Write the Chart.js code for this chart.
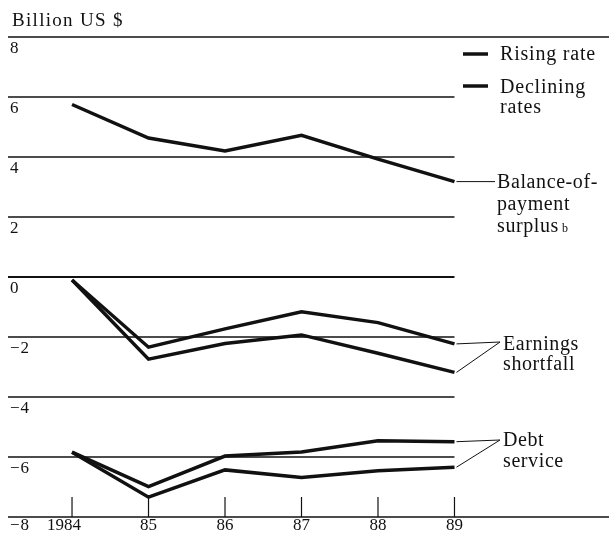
<!DOCTYPE html>
<html>
<head>
<meta charset="utf-8">
<script src="https://cdn.jsdelivr.net/npm/chart.js@4.4.0/dist/chart.umd.min.js"></script>
<style>
  body { margin: 0; background: #fff; }
</style>
</head>
<body>
<canvas id="debtChart" width="609" height="537"></canvas>
<script>
// values, billion US $
const years = [1984, 1985, 1986, 1987, 1988, 1989];
const yearLabels = ["1984", "85", "86", "87", "88", "89"];
const yTicks = [8, 6, 4, 2, 0, -2, -4, -6, -8];

const balanceSurplus = [5.75, 4.63, 4.2, 4.72, 3.93, 3.18];
const earningsRising = [-0.1, -2.74, -2.22, -1.93, -2.54, -3.18];
const earningsDeclining = [-0.1, -2.34, -1.73, -1.16, -1.52, -2.23];
const debtRising = [-5.84, -7.34, -6.43, -6.68, -6.46, -6.34];
const debtDeclining = [-5.84, -6.99, -5.97, -5.83, -5.46, -5.49];

const legendNames = ["Rising rate", "Declining", "rates"];

const serif = "'Liberation Serif', 'Times New Roman', serif";
const ink = "#111";

function toPoints(vals) {
  return years.map((yr, i) => ({ x: yr, y: vals[i] }));
}

function lineSet(label, vals) {
  return {
    label: label,
    data: toPoints(vals),
    borderColor: ink,
    borderWidth: 3.5,
    borderJoinStyle: "miter",
    pointRadius: 0,
    tension: 0,
    fill: false
  };
}

function txt(ctx, s, x, y, size, spacing, align) {
  ctx.font = size + "px " + serif;
  ctx.letterSpacing = (spacing || 0) + "px";
  ctx.textAlign = align || "left";
  ctx.textBaseline = "alphabetic";
  ctx.fillStyle = ink;
  ctx.fillText(s, x, y);
}

function line(ctx, x1, y1, x2, y2, w) {
  ctx.beginPath();
  ctx.moveTo(x1, y1);
  ctx.lineTo(x2, y2);
  ctx.lineWidth = w;
  ctx.strokeStyle = ink;
  ctx.stroke();
}

// gridlines, ticks and axis text drawn from the scales
const framePlugin = {
  id: "frame",
  beforeDatasetsDraw(chart) {
    const ctx = chart.ctx;
    const xs = chart.scales.x, ys = chart.scales.y;
    const area = chart.chartArea;
    const lastX = xs.getPixelForValue(years[years.length - 1]);
    ctx.save();
    yTicks.forEach((t) => {
      const py = ys.getPixelForValue(t);
      const full = t === yTicks[0] || t === yTicks[yTicks.length - 1];
      line(ctx, area.left, py, full ? area.right : lastX, py, t === 0 ? 2 : 1.3);
    });
    years.forEach((yr) => {
      const px = xs.getPixelForValue(yr);
      const py = ys.getPixelForValue(yTicks[yTicks.length - 1]);
      line(ctx, px, py - 20, px, py, 1.2);
    });
    ctx.restore();
  },
  afterDraw(chart) {
    const ctx = chart.ctx;
    const xs = chart.scales.x, ys = chart.scales.y;
    ctx.save();
    txt(ctx, "Billion US $", 12, 26, 19, 1.3);

    yTicks.forEach((t, i) => {
      const py = ys.getPixelForValue(t);
      const s = t < 0 ? "\u2212" + Math.abs(t) : String(t);
      const off = i === yTicks.length - 1 ? 13 : 15.5;
      txt(ctx, s, 10, py + off, 17, 0.8);
    });
    const bottom = ys.getPixelForValue(yTicks[yTicks.length - 1]);
    years.forEach((yr, i) => {
      const px = xs.getPixelForValue(yr) - (i === 0 ? 8 : 0);
      txt(ctx, yearLabels[i], px, bottom + 13, 17, 0, "center");
    });

    // legend
    line(ctx, 463, 54, 488, 54, 3.5);
    line(ctx, 463, 86, 488, 86, 3.5);
    txt(ctx, legendNames[0], 500, 60, 20, 0.8);
    txt(ctx, legendNames[1], 500, 93, 20, 0.8);
    txt(ctx, legendNames[2], 500, 113, 20, 0.8);

    // series labels with leader lines
    const endX = xs.getPixelForValue(years[years.length - 1]) + 2;
    const last = years.length - 1;
    const yb = ys.getPixelForValue(balanceSurplus[last]);
    line(ctx, endX, yb, 495, yb, 1);
    txt(ctx, "Balance-of-", 497, 188, 20, 0.6);
    txt(ctx, "payment", 497, 210, 20, 0.6);
    txt(ctx, "surplus", 497, 232, 20, 0.6);
    txt(ctx, "b", 562, 232, 12, 0);

    line(ctx, endX, ys.getPixelForValue(earningsDeclining[last]), 500, 342, 1);
    line(ctx, endX, ys.getPixelForValue(earningsRising[last]), 500, 342, 1);
    txt(ctx, "Earnings", 503, 350, 20, 0.6);
    txt(ctx, "shortfall", 503, 370, 20, 0.6);

    line(ctx, endX, ys.getPixelForValue(debtDeclining[last]), 500, 440, 1);
    line(ctx, endX, ys.getPixelForValue(debtRising[last]), 500, 440, 1);
    txt(ctx, "Debt", 503, 446, 20, 0.6);
    txt(ctx, "service", 503, 467, 20, 0.6);
    ctx.restore();
  }
};

const ctxChart = document.getElementById("debtChart");

new Chart(ctxChart, {
  type: "line",
  data: {
    datasets: [
      lineSet("Balance-of-payment surplus", balanceSurplus),
      lineSet("Earnings shortfall, rising rate", earningsRising),
      lineSet("Earnings shortfall, declining rates", earningsDeclining),
      lineSet("Debt service, rising rate", debtRising),
      lineSet("Debt service, declining rates", debtDeclining)
    ]
  },
  options: {
    responsive: false,
    animation: false,
    layout: {
      padding: { top: 37, bottom: 20, left: 8, right: 0 }
    },
    plugins: {
      legend: { display: false },
      tooltip: { enabled: false }
    },
    scales: {
      x: {
        type: "linear",
        display: false,
        min: 1983.163,
        max: 1991.02
      },
      y: {
        display: false,
        min: -8,
        max: 8
      }
    }
  },
  plugins: [framePlugin]
});
</script>
</body>
</html>
